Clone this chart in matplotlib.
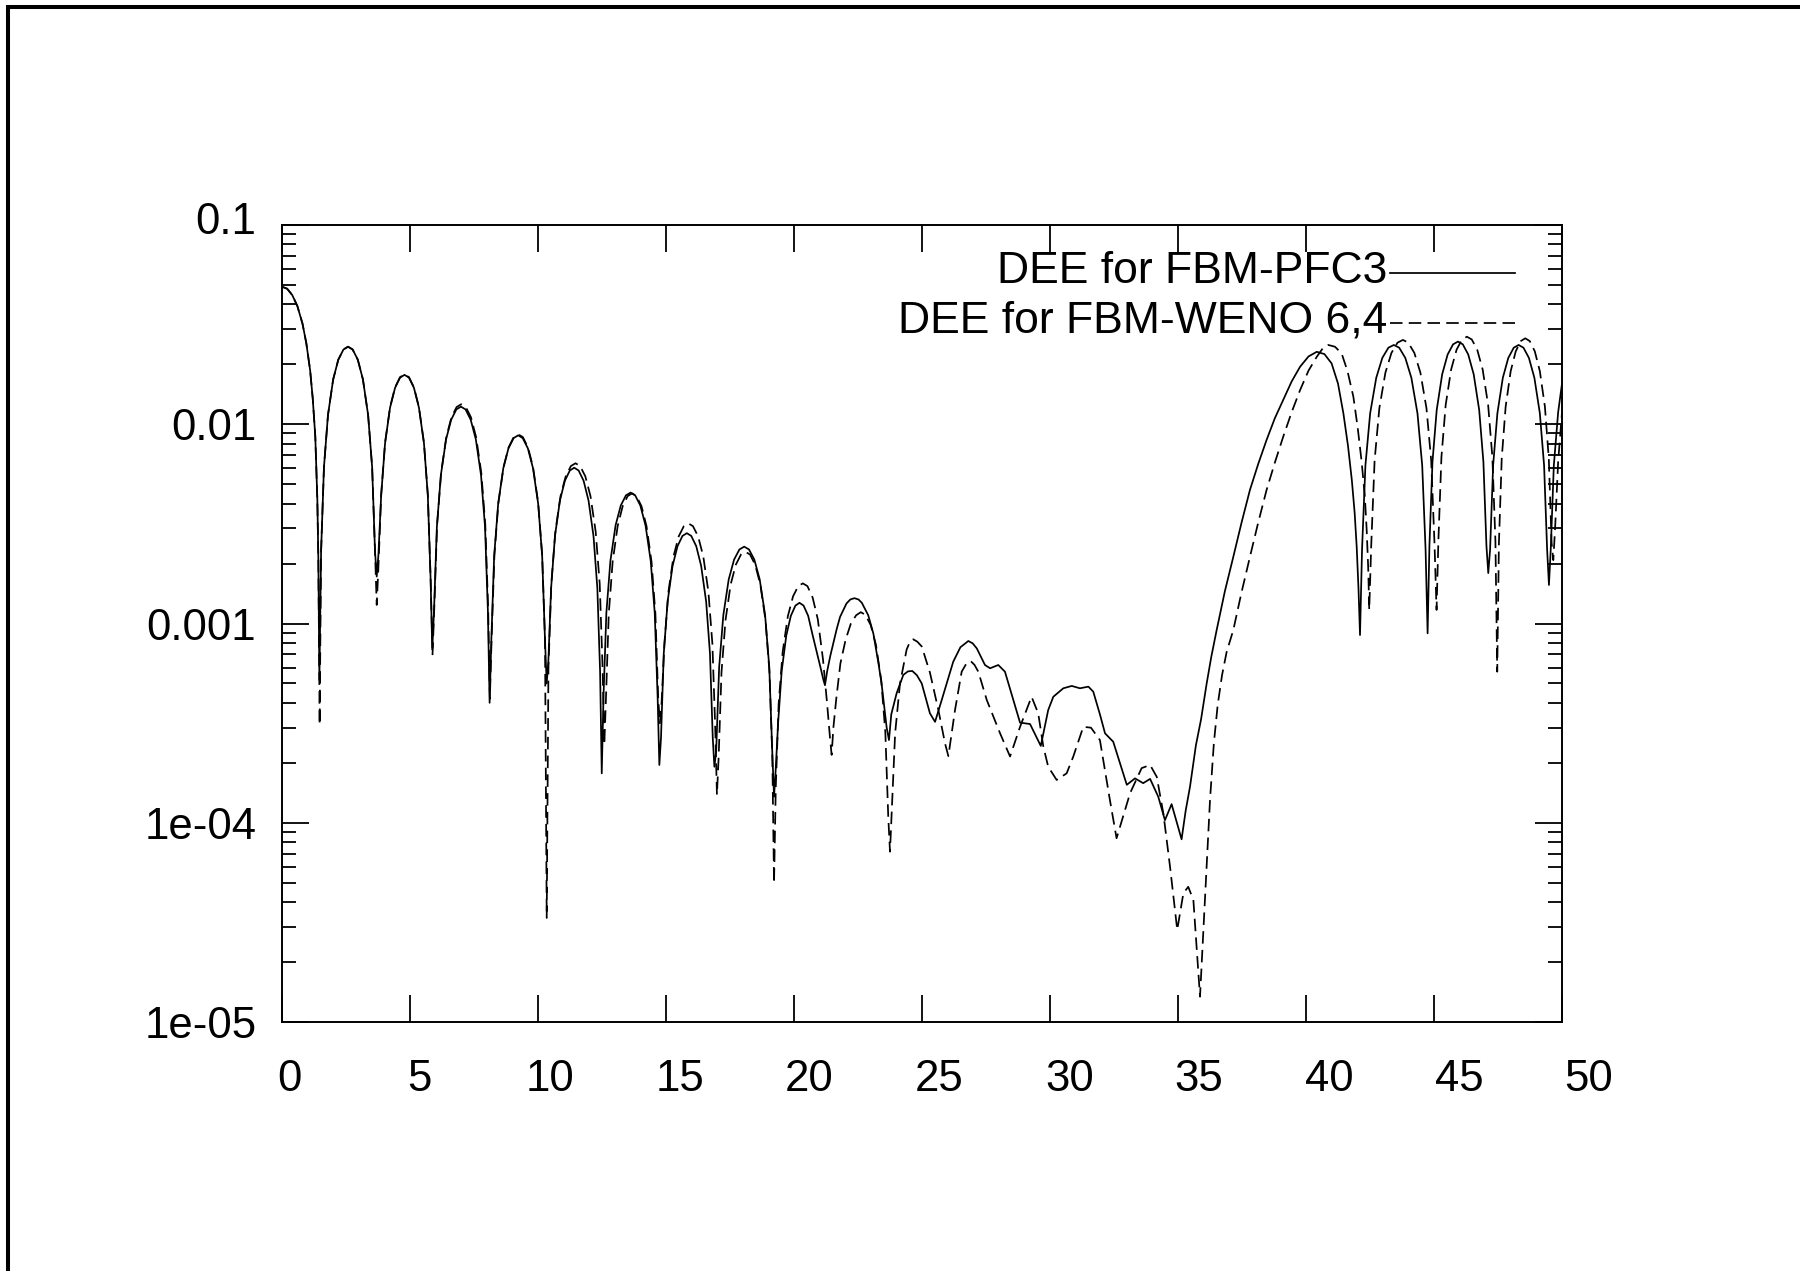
import matplotlib
matplotlib.use('Agg')
import matplotlib.pyplot as plt
from matplotlib.ticker import LogLocator, NullLocator
from matplotlib.patches import Rectangle
from matplotlib.lines import Line2D
import matplotlib.transforms as mtransforms

plt.rcParams['font.family'] = ['Liberation Sans', 'DejaVu Sans']
plt.rcParams['lines.scale_dashes'] = False

# ---------------- data ----------------
x_ticks = [0, 5, 10, 15, 20, 25, 30, 35, 40, 45, 50]
x_labels = ['0', '5', '10', '15', '20', '25', '30', '35', '40', '45', '50']
y_ticks = [1e-5, 1e-4, 1e-3, 1e-2, 1e-1]
y_labels = ['1e-05', '1e-04', '0.001', '0.01', '0.1']

label_pfc3 = 'DEE for FBM-PFC3'
label_weno = 'DEE for FBM-WENO 6,4'

x_pfc3 = [
    0.00, 0.20, 0.40, 0.60, 0.80, 0.95, 1.10, 1.20, 1.30, 1.38, 1.42, 1.46,
    1.527, 1.639, 1.796, 1.998, 2.199, 2.401, 2.580, 2.759, 2.961, 3.162, 3.364, 3.521, 3.633, 3.70,
    3.765, 3.874, 4.026, 4.221, 4.416, 4.611, 4.785, 4.959, 5.154, 5.349, 5.545, 5.696, 5.805, 5.87,
    5.937, 6.049, 6.206, 6.408, 6.609, 6.811, 6.990, 7.169, 7.371, 7.572, 7.774, 7.931, 8.043, 8.11,
    8.177, 8.288, 8.445, 8.645, 8.846, 9.047, 9.225, 9.403, 9.604, 9.805, 10.006, 10.162, 10.273, 10.34,
    10.405, 10.512, 10.663, 10.856, 11.050, 11.243, 11.415, 11.587, 11.781, 11.974, 12.168, 12.318, 12.426, 12.49,
    12.558, 12.670, 12.828, 13.030, 13.233, 13.435, 13.615, 13.795, 13.998, 14.200, 14.403, 14.560, 14.673, 14.74,
    14.805, 14.912, 15.063, 15.256, 15.450, 15.643, 15.815, 15.987, 16.181, 16.374, 16.568, 16.718, 16.826, 16.89,
    16.960, 17.076, 17.240, 17.449, 17.659, 17.869, 18.055, 18.241, 18.451, 18.661, 18.871, 19.034, 19.150, 19.22,
    19.280, 19.379, 19.519, 19.698, 19.877, 20.056, 20.215, 20.374, 20.553, 20.732, 20.912, 21.051, 21.150, 21.21,
    21.30, 21.42, 21.54, 21.67, 21.80, 22.05, 22.20, 22.36, 22.52, 22.65, 22.90, 23.10, 23.30, 23.42, 23.55, 23.62, 23.71,
    23.80, 24.01, 24.27, 24.45, 24.62, 24.80, 24.99, 25.31, 25.51, 25.77,
    26.22, 26.50, 26.81, 26.98, 27.14, 27.46, 27.66, 27.98, 28.24, 28.57,
    28.83, 29.22, 29.64, 29.93, 30.13, 30.52, 30.85, 31.17, 31.50, 31.69,
    31.95, 32.15, 32.47, 33.00, 33.32, 33.64, 33.91, 34.23, 34.49, 34.75,
    35.14, 35.30, 35.47, 35.70, 35.90, 36.12, 36.30, 36.51, 36.83, 37.16,
    37.48, 37.81, 38.13, 38.46, 38.78, 39.11, 39.44, 39.77, 40.10, 40.42,
    40.72, 41.00, 41.25, 41.46, 41.64, 41.79, 41.90, 41.98, 42.05, 42.11,
    42.189, 42.321, 42.506, 42.744, 42.981, 43.219, 43.430, 43.641, 43.879, 44.116, 44.354, 44.539, 44.671, 44.75,
    44.821, 44.940, 45.106, 45.319, 45.532, 45.745, 45.935, 46.125, 46.338, 46.551, 46.765, 46.930, 47.049, 47.12,
    47.191, 47.310, 47.476, 47.689, 47.902, 48.115, 48.305, 48.495, 48.708, 48.921, 49.135, 49.300, 49.419, 49.49,
    49.56, 49.68, 49.85, 50.00,
]
y_pfc3 = [
    0.049, 0.0479, 0.0445, 0.0392, 0.0320, 0.0255, 0.0186, 0.0135, 0.0087, 0.0042, 0.0021, 5.2e-4,
    2.31e-3, 6.09e-3, 1.112e-2, 1.677e-2, 2.109e-2, 2.373e-2, 2.45e-2, 2.373e-2, 2.109e-2, 1.677e-2, 1.112e-2, 6.09e-3, 2.31e-3, 1.72e-3,
    2.2e-3, 4.40e-3, 8.04e-3, 1.212e-2, 1.523e-2, 1.714e-2, 1.77e-2, 1.714e-2, 1.523e-2, 1.212e-2, 8.04e-3, 4.40e-3, 1.67e-3, 7.4e-4,
    1.153e-3, 3.047e-3, 5.56e-3, 8.39e-3, 1.054e-2, 1.187e-2, 1.225e-2, 1.187e-2, 1.054e-2, 8.39e-3, 5.56e-3, 3.047e-3, 1.153e-3, 4.0e-4,
    8.28e-4, 2.189e-3, 3.995e-3, 6.02e-3, 7.57e-3, 8.52e-3, 8.8e-3, 8.52e-3, 7.57e-3, 6.02e-3, 3.995e-3, 2.189e-3, 8.28e-4, 5.0e-4,
    6.5e-4, 1.505e-3, 2.747e-3, 4.141e-3, 5.207e-3, 5.86e-3, 6.05e-3, 5.86e-3, 5.207e-3, 4.141e-3, 2.747e-3, 1.505e-3, 5.69e-4, 1.77e-4,
    4.27e-4, 1.129e-3, 2.061e-3, 3.108e-3, 3.908e-3, 4.397e-3, 4.54e-3, 4.397e-3, 3.908e-3, 3.108e-3, 2.061e-3, 1.129e-3, 4.27e-4, 1.95e-4,
    2.67e-4, 7.06e-4, 1.289e-3, 1.944e-3, 2.444e-3, 2.751e-3, 2.84e-3, 2.751e-3, 2.444e-3, 1.944e-3, 1.289e-3, 7.06e-4, 2.67e-4, 1.91e-4,
    2.29e-4, 6.04e-4, 1.103e-3, 1.663e-3, 2.092e-3, 2.354e-3, 2.43e-3, 2.354e-3, 2.092e-3, 1.663e-3, 1.103e-3, 6.04e-4, 2.29e-4, 1.35e-4,
    1.8e-4, 3.16e-4, 5.77e-4, 8.69e-4, 1.093e-3, 1.230e-3, 1.27e-3, 1.230e-3, 1.093e-3, 8.7e-4, 7.0e-4, 5.9e-4, 5.2e-4, 4.9e-4,
    5.8e-4, 6.9e-4, 8.0e-4, 9.4e-4, 1.08e-3, 1.26e-3, 1.32e-3, 1.34e-3, 1.32e-3, 1.27e-3, 1.10e-3, 8.9e-4, 6.3e-4, 5.0e-4, 3.6e-4, 3.0e-4, 2.6e-4,
    3.5e-4, 4.47e-4, 5.52e-4, 5.75e-4, 5.78e-4, 5.5e-4, 5.0e-4, 3.54e-4, 3.21e-4, 4.13e-4,
    6.43e-4, 7.6e-4, 8.17e-4, 7.95e-4, 7.5e-4, 6.19e-4, 5.96e-4, 6.19e-4, 5.73e-4, 4.13e-4,
    3.18e-4, 3.13e-4, 2.43e-4, 3.68e-4, 4.29e-4, 4.73e-4, 4.86e-4, 4.73e-4, 4.82e-4, 4.55e-4,
    3.5e-4, 2.81e-4, 2.55e-4, 1.55e-4, 1.67e-4, 1.58e-4, 1.66e-4, 1.35e-4, 1.03e-4, 1.24e-4,
    8.26e-5, 1.15e-4, 1.52e-4, 2.45e-4, 3.3e-4, 5.0e-4, 6.8e-4, 9.27e-4, 1.45e-3, 2.16e-3,
    3.2e-3, 4.68e-3, 6.3e-3, 8.34e-3, 1.07e-2, 1.324e-2, 1.64e-2, 1.945e-2, 2.19e-2, 2.31e-2,
    2.25e-2, 2.02e-2, 1.6e-2, 1.135e-2, 7.8e-3, 5.25e-3, 3.6e-3, 2.43e-3, 1.5e-3, 8.75e-4,
    2.35e-3, 6.22e-3, 1.135e-2, 1.711e-2, 2.152e-2, 2.422e-2, 2.5e-2, 2.422e-2, 2.152e-2, 1.711e-2, 1.135e-2, 6.22e-3, 2.35e-3, 8.93e-4,
    2.45e-3, 6.47e-3, 1.180e-2, 1.780e-2, 2.238e-2, 2.518e-2, 2.6e-2, 2.518e-2, 2.238e-2, 1.780e-2, 1.180e-2, 6.47e-3, 2.45e-3, 1.79e-3,
    2.35e-3, 6.22e-3, 1.135e-2, 1.711e-2, 2.152e-2, 2.422e-2, 2.5e-2, 2.422e-2, 2.152e-2, 1.711e-2, 1.135e-2, 6.22e-3, 2.35e-3, 1.56e-3,
    2.35e-3, 6.2e-3, 1.15e-2, 1.6e-2,
]

x_weno = [
    0.00, 0.20, 0.40, 0.60, 0.80, 0.95, 1.10, 1.20, 1.30, 1.38, 1.42, 1.47,
    1.527, 1.639, 1.796, 1.998, 2.199, 2.401, 2.580, 2.759, 2.961, 3.162, 3.364, 3.521, 3.633, 3.70,
    3.765, 3.874, 4.026, 4.221, 4.416, 4.611, 4.785, 4.959, 5.154, 5.349, 5.545, 5.696, 5.805, 5.88,
    5.947, 6.059, 6.216, 6.418, 6.619, 6.821, 7.000, 7.179, 7.381, 7.582, 7.784, 7.941, 8.053, 8.12,
    8.187, 8.298, 8.453, 8.653, 8.853, 9.052, 9.230, 9.408, 9.607, 9.807, 10.007, 10.162, 10.273, 10.34,
    10.408, 10.520, 10.678, 10.880, 11.083, 11.285, 11.465, 11.645, 11.848, 12.050, 12.253, 12.410, 12.523, 12.59,
    12.655, 12.764, 12.916, 13.111, 13.306, 13.501, 13.675, 13.849, 14.044, 14.239, 14.435, 14.586, 14.695, 14.76,
    14.827, 14.938, 15.095, 15.295, 15.496, 15.697, 15.875, 16.053, 16.254, 16.455, 16.656, 16.812, 16.923, 16.99,
    17.057, 17.168, 17.325, 17.525, 17.726, 17.927, 18.105, 18.283, 18.484, 18.685, 18.886, 19.042, 19.153, 19.22,
    19.288, 19.400, 19.558, 19.760, 19.963, 20.165, 20.345, 20.525, 20.728, 20.930, 21.133, 21.290, 21.403, 21.47,
    21.538, 21.652, 21.812, 22.017, 22.222, 22.428, 22.610, 22.792, 22.998, 23.203, 23.408, 23.568, 23.682, 23.75,
    23.95, 24.14, 24.40, 24.53, 24.66, 24.82, 24.99, 25.31, 25.64, 25.90,
    26.03, 26.29, 26.55, 26.72, 26.90, 27.05, 27.20, 27.53, 28.05, 28.44,
    28.83, 29.28, 29.54, 29.74, 29.93, 30.26, 30.65, 30.91, 31.30, 31.60,
    31.95, 32.34, 32.60, 33.13, 33.58, 33.91, 34.17, 34.43, 34.69, 34.97,
    35.21, 35.40, 35.60, 35.86, 36.05, 36.25, 36.40, 36.55, 36.72, 36.90,
    37.16, 37.48, 37.81, 38.13, 38.46, 38.78, 39.11, 39.44, 39.77, 40.10,
    40.42, 40.65, 40.87, 41.13, 41.39, 41.62, 41.85, 42.02, 42.18, 42.30,
    42.37, 42.43, 42.47,
    42.549, 42.680, 42.865, 43.101, 43.338, 43.575, 43.785, 43.995, 44.232, 44.469, 44.706, 44.890, 45.021, 45.10,
    45.171, 45.290, 45.456, 45.669, 45.882, 46.095, 46.285, 46.475, 46.688, 46.901, 47.115, 47.280, 47.399, 47.47,
    47.536, 47.645, 47.799, 47.996, 48.193, 48.390, 48.565, 48.740, 48.937, 49.134, 49.332, 49.485, 49.594, 49.66,
    49.73, 49.85, 50.00,
]
y_weno = [
    0.049, 0.0479, 0.0445, 0.0392, 0.0320, 0.0255, 0.0186, 0.0135, 0.0087, 0.0042, 0.0021, 3.1e-4,
    2.31e-3, 6.09e-3, 1.112e-2, 1.677e-2, 2.109e-2, 2.373e-2, 2.45e-2, 2.373e-2, 2.109e-2, 1.677e-2, 1.112e-2, 6.09e-3, 2.31e-3, 1.24e-3,
    1.9e-3, 4.43e-3, 8.08e-3, 1.218e-2, 1.532e-2, 1.724e-2, 1.78e-2, 1.724e-2, 1.532e-2, 1.218e-2, 8.08e-3, 4.43e-3, 1.68e-3, 7.0e-4,
    1.186e-3, 3.134e-3, 5.72e-3, 8.62e-3, 1.084e-2, 1.220e-2, 1.26e-2, 1.220e-2, 1.084e-2, 8.62e-3, 5.72e-3, 3.134e-3, 1.186e-3, 4.2e-4,
    8.37e-4, 2.213e-3, 4.04e-3, 6.09e-3, 7.66e-3, 8.62e-3, 8.9e-3, 8.62e-3, 7.66e-3, 6.09e-3, 4.04e-3, 2.213e-3, 8.37e-4, 3.33e-5,
    5.99e-4, 1.584e-3, 2.892e-3, 4.360e-3, 5.48e-3, 6.17e-3, 6.37e-3, 6.17e-3, 5.48e-3, 4.360e-3, 2.892e-3, 1.584e-3, 5.99e-4, 2.46e-4,
    4.23e-4, 1.119e-3, 2.043e-3, 3.080e-3, 3.873e-3, 4.359e-3, 4.5e-3, 4.359e-3, 3.873e-3, 3.080e-3, 2.043e-3, 1.119e-3, 4.23e-4, 3.16e-4,
    4.0e-4, 7.91e-4, 1.444e-3, 2.177e-3, 2.737e-3, 3.080e-3, 3.18e-3, 3.080e-3, 2.737e-3, 2.177e-3, 1.444e-3, 7.91e-4, 2.99e-4, 1.38e-4,
    2.15e-4, 5.70e-4, 1.040e-3, 1.568e-3, 1.971e-3, 2.218e-3, 2.29e-3, 2.218e-3, 1.971e-3, 1.568e-3, 1.040e-3, 5.70e-4, 2.15e-4, 4.97e-5,
    1.50e-4, 3.95e-4, 7.22e-4, 1.088e-3, 1.369e-3, 1.540e-3, 1.59e-3, 1.54e-3, 1.35e-3, 1.05e-3, 6.6e-4, 4.0e-4, 2.7e-4, 2.19e-4,
    3.0e-4, 4.2e-4, 6.3e-4, 8.3e-4, 1.00e-3, 1.10e-3, 1.14e-3, 1.104e-3, 9.81e-4, 7.80e-4, 5.18e-4, 2.84e-4, 1.07e-4, 7.16e-5,
    2.81e-4, 5.0e-4, 7.4e-4, 8.1e-4, 8.33e-4, 8.1e-4, 7.67e-4, 5.67e-4, 3.68e-4, 2.5e-4,
    2.16e-4, 3.68e-4, 5.73e-4, 6.25e-4, 6.48e-4, 6.2e-4, 5.73e-4, 4.13e-4, 2.81e-4, 2.15e-4,
    3.03e-4, 4.29e-4, 3.54e-4, 2.41e-4, 1.91e-4, 1.64e-4, 1.77e-4, 2.15e-4, 3.03e-4, 3.0e-4,
    2.6e-4, 1.30e-4, 8.36e-5, 1.41e-4, 1.88e-4, 1.95e-4, 1.70e-4, 1.11e-4, 6.0e-5, 2.9e-5,
    4.43e-5, 4.77e-5, 4.1e-5, 1.34e-5, 4.1e-5, 1.3e-4, 2.5e-4, 3.9e-4, 5.5e-4, 7.2e-4,
    9.27e-4, 1.43e-3, 2.16e-3, 3.2e-3, 4.68e-3, 6.4e-3, 8.66e-3, 1.15e-2, 1.486e-2, 1.86e-2,
    2.18e-2, 2.4e-2, 2.5e-2, 2.45e-2, 2.27e-2, 1.85e-2, 1.375e-2, 9.6e-3, 6.37e-3, 4.3e-3,
    2.95e-3, 1.9e-3, 1.17e-3,
    2.49e-3, 6.59e-3, 1.203e-2, 1.814e-2, 2.281e-2, 2.567e-2, 2.65e-2, 2.567e-2, 2.281e-2, 1.814e-2, 1.203e-2, 6.59e-3, 2.49e-3, 1.17e-3,
    2.59e-3, 6.84e-3, 1.249e-2, 1.882e-2, 2.367e-2, 2.664e-2, 2.75e-2, 2.664e-2, 2.367e-2, 1.882e-2, 1.249e-2, 6.84e-3, 2.59e-3, 5.73e-4,
    2.54e-3, 6.71e-3, 1.226e-2, 1.848e-2, 2.324e-2, 2.615e-2, 2.7e-2, 2.615e-2, 2.324e-2, 1.848e-2, 1.226e-2, 6.71e-3, 2.54e-3, 2.08e-3,
    3.0e-3, 6.5e-3, 1.15e-2,
]
assert len(x_pfc3) == len(y_pfc3), (len(x_pfc3), len(y_pfc3))
assert len(x_weno) == len(y_weno), (len(x_weno), len(y_weno))

# ---------------- figure ----------------
W, H = 1800, 1271
fig = plt.figure(figsize=(W / 100, H / 100), dpi=100)
fig.patch.set_facecolor('white')

# outer frame (extends past the right and bottom edges)
frame = Rectangle((8 / W, -0.5), 2.0, (1 - 7 / H) + 0.5, transform=fig.transFigure,
                  fill=False, edgecolor='black', linewidth=2.9)
fig.add_artist(frame)

ax = fig.add_axes([282 / W, 1 - 1022 / H, 1280 / W, 797 / H])
ax.set_yscale('log')
ax.set_xlim(0, 50)
ax.set_ylim(1e-5, 0.1)

LW = 1.25
DASH = (9, 4.5)
ax.plot(x_pfc3, y_pfc3, color='black', lw=LW, solid_joinstyle='round')
ax.plot(x_weno, y_weno, color='black', lw=LW, dashes=DASH)

# ticks
ax.set_xticks(x_ticks)
ax.xaxis.set_minor_locator(NullLocator())
ax.set_yticks(y_ticks, y_labels)
ax.yaxis.set_minor_locator(LogLocator(base=10, subs=range(2, 10), numticks=20))
ax.tick_params(which='both', direction='in', top=True, right=True, width=1.3,
               color='black')
ax.tick_params(which='major', length=19.5)
ax.tick_params(which='minor', length=10)
ax.tick_params(axis='x', labelbottom=False)
ax.tick_params(axis='y', labelsize=31.5, pad=18.5)
for s in ax.spines.values():
    s.set_linewidth(1.4)

# the top y label sits a little higher in the original
top_tick = ax.yaxis.get_major_ticks()[-1]
top_tick.label1.set_transform(top_tick.label1.get_transform() +
                              mtransforms.ScaledTranslation(0, 7 / 100, fig.dpi_scale_trans))

# x tick labels (gnuplot places them on a slightly wider grid)
xt = mtransforms.blended_transform_factory(ax.transData, ax.transAxes)
xt = xt + mtransforms.ScaledTranslation(0, -69 / 100, fig.dpi_scale_trans)
for v, lab in zip(x_ticks, x_labels):
    ax.text(v * 1.0148 + 0.31, 0, lab, transform=xt, ha='center', va='baseline',
            fontsize=31.5, clip_on=False)

# key (gnuplot style: text then sample)
ax.text(0.8633, 0.9276, label_pfc3, transform=ax.transAxes, ha='right',
        va='baseline', fontsize=32)
ax.text(0.8633, 0.8657, label_weno, transform=ax.transAxes, ha='right',
        va='baseline', fontsize=32)
ax.add_line(Line2D([0.8656, 0.9633], [0.9398, 0.9398], transform=ax.transAxes,
                   color='black', lw=LW))
ax.add_line(Line2D([0.8656, 0.9633], [0.877, 0.877], transform=ax.transAxes,
                   color='black', lw=LW, dashes=DASH))

fig.savefig('out.png', dpi=100)
